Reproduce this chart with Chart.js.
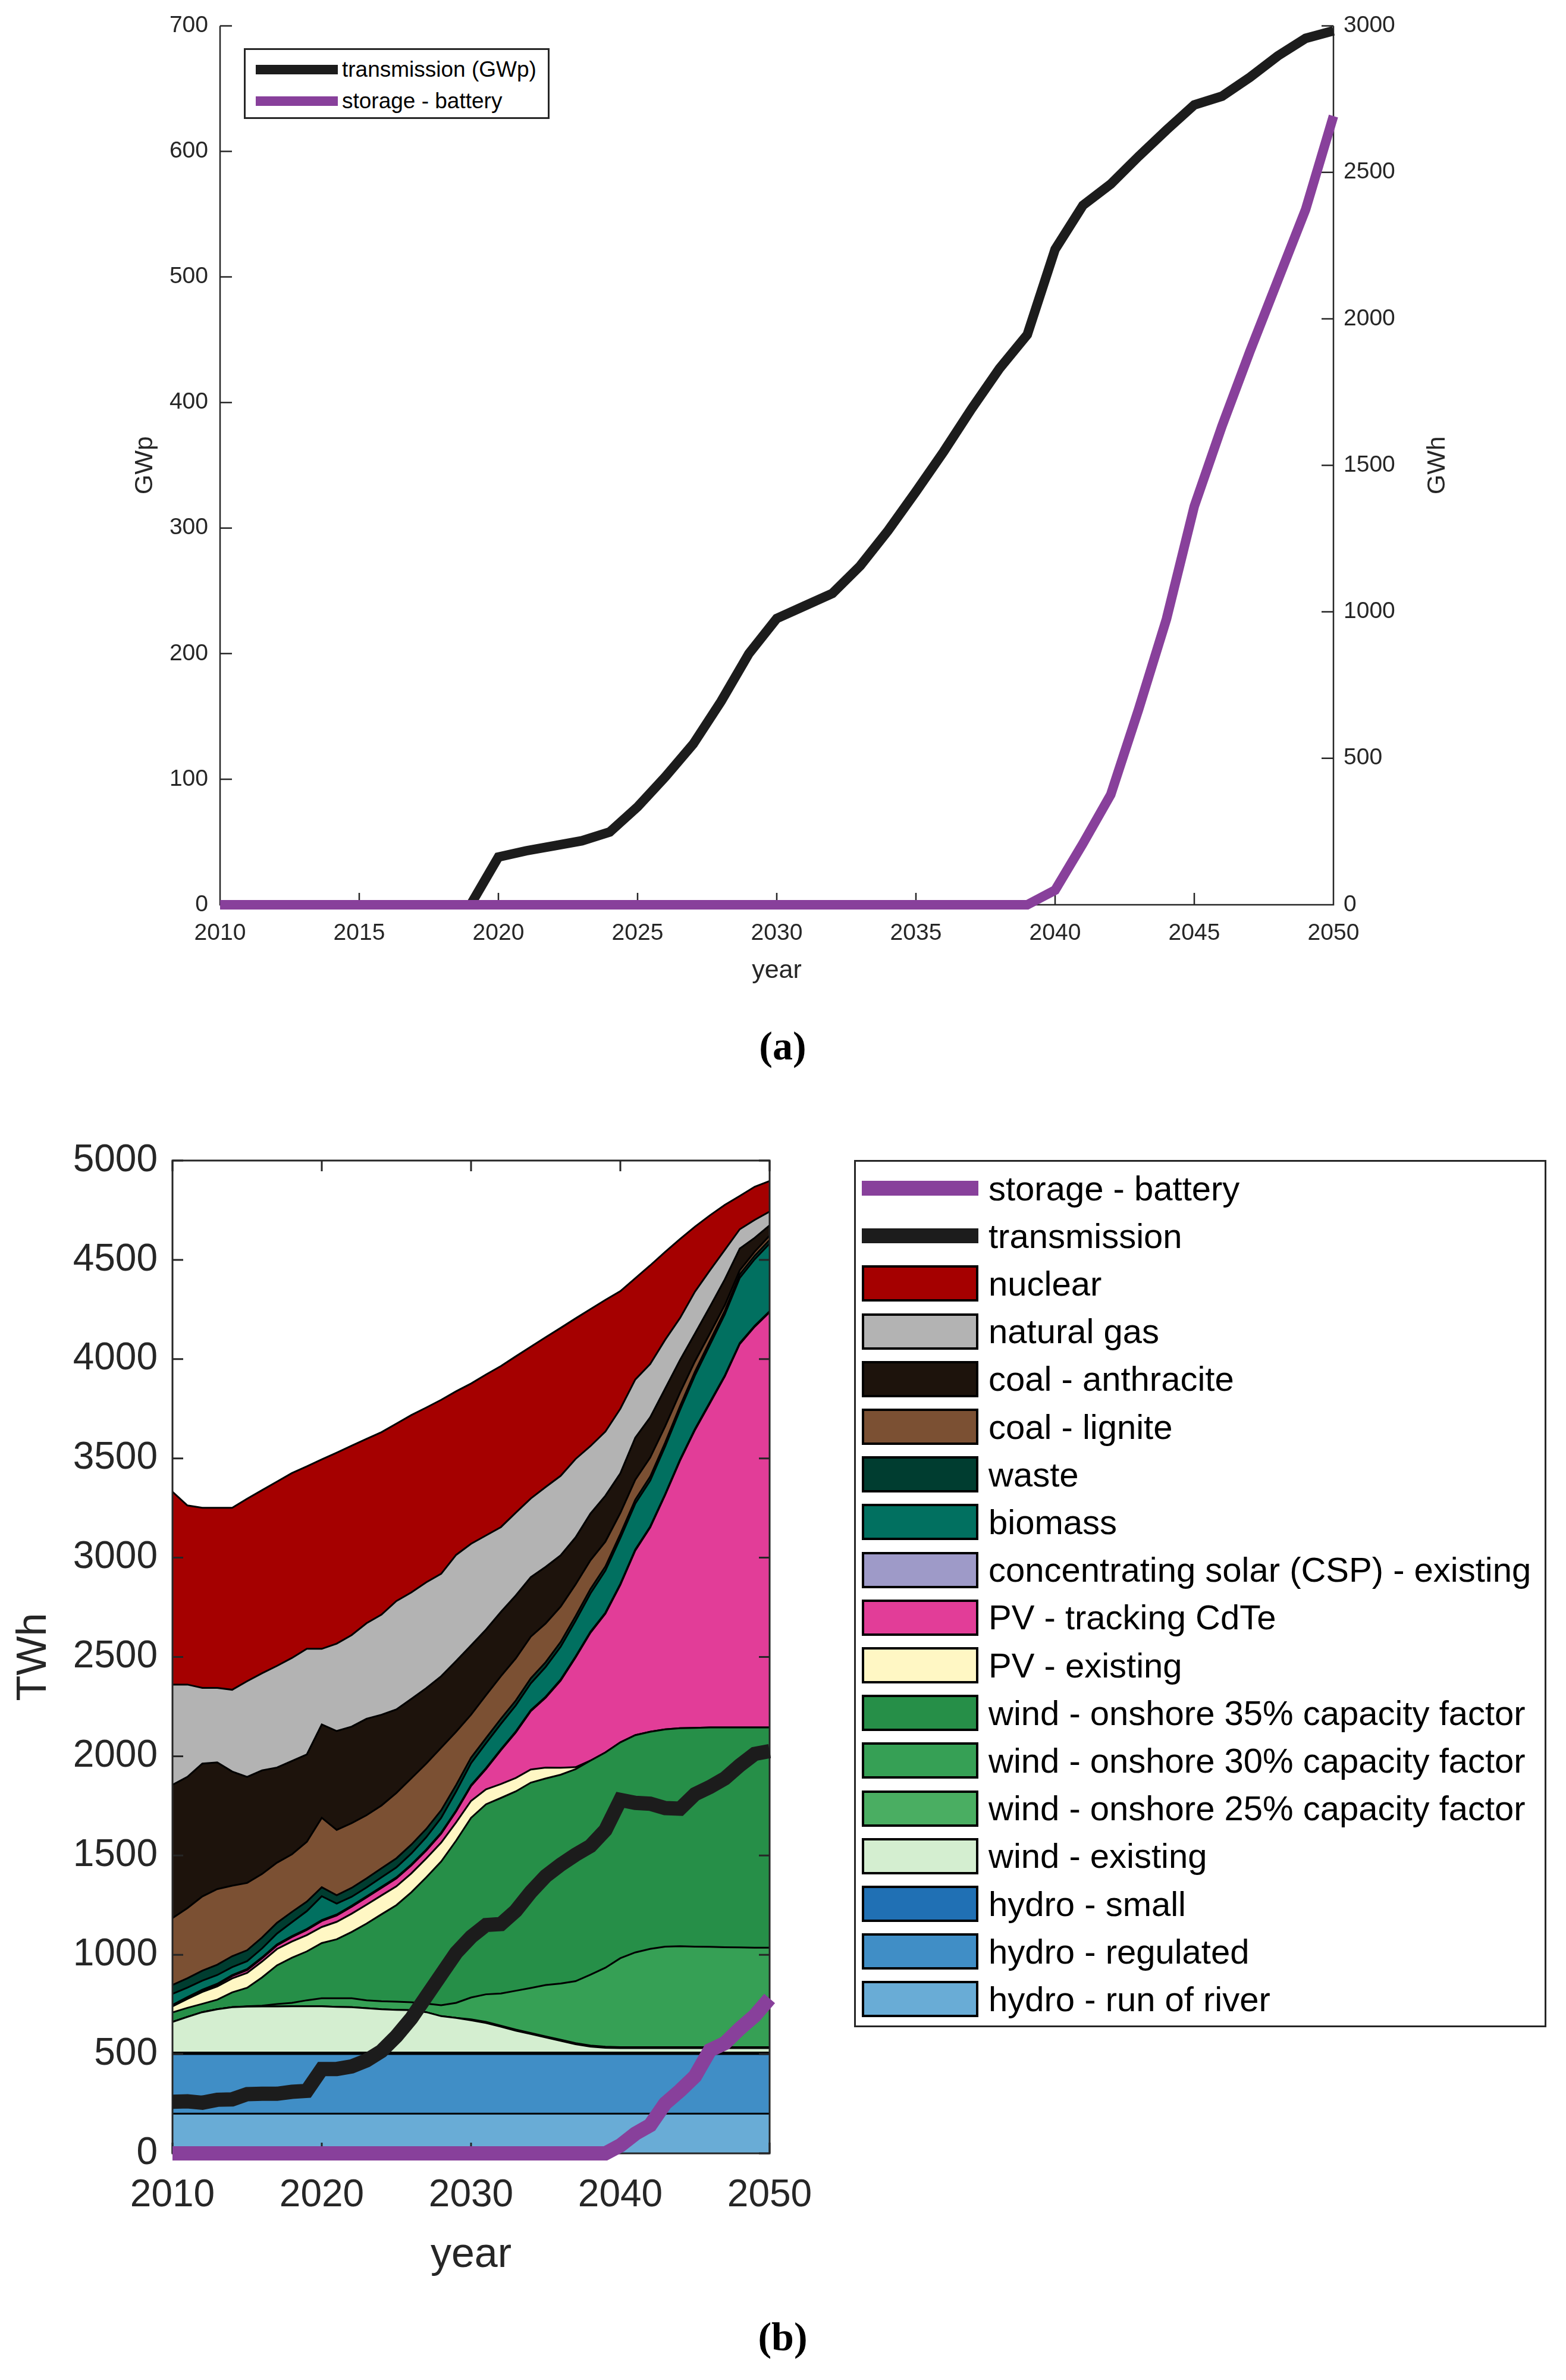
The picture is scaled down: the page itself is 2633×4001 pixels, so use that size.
<!DOCTYPE html>
<html lang="en">
<head>
<meta charset="UTF-8">
<title>Transmission, storage and generation mix 2010-2050</title>
<script src="https://cdn.jsdelivr.net/npm/chart.js"></script>
<style>
  html, body { margin: 0; padding: 0; background: #fff; }
  body { width: 2633px; height: 4001px; position: relative; overflow: hidden;
         font-family: "Liberation Sans", Arial, Helvetica, sans-serif; }
  #chartA { position: absolute; left: 0; top: 0; }
  #chartB { position: absolute; left: 0; top: 1880px; }
  .legend { position: absolute; background: #fff; border: 3px solid #262626; box-sizing: border-box; }
  .legend .swatch { position: absolute; box-sizing: border-box; }
  .legend .txt { position: absolute; white-space: nowrap; color: #000; }
  #legendA { left: 410px; top: 81px; width: 514px; height: 119px; }
  #legendB { left: 1436px; top: 1950px; width: 1164px; height: 1458px; }
  .caption { position: absolute; width: 300px; text-align: center; line-height: 80px;
             font: bold 68px "Liberation Serif", "DejaVu Serif", serif; color: #000; }
</style>
</head>
<body>

<canvas id="chartA" width="2633" height="1720"></canvas>
<div id="legendA" class="legend"></div>
<div class="caption" style="left:1166px; top:1719px;">(a)</div>

<canvas id="chartB" width="1440" height="2000"></canvas>
<div id="legendB" class="legend"></div>
<div class="caption" style="left:1166px; top:3889px;">(b)</div>

<script>
  const years = [2010, 2011, 2012, 2013, 2014, 2015, 2016, 2017, 2018, 2019,
                 2020, 2021, 2022, 2023, 2024, 2025, 2026, 2027, 2028, 2029,
                 2030, 2031, 2032, 2033, 2034, 2035, 2036, 2037, 2038, 2039,
                 2040, 2041, 2042, 2043, 2044, 2045, 2046, 2047, 2048, 2049, 2050];

  // ---- (a) installed capacity ----
  const xTicksA = [2010, 2015, 2020, 2025, 2030, 2035, 2040, 2045, 2050];
  const yTicksGWp = [0, 100, 200, 300, 400, 500, 600, 700];
  const yTicksGWh = [0, 500, 1000, 1500, 2000, 2500, 3000];

  const transmissionGWp = [0, 0, 0, 0, 0, 0, 0, 0, 0, 0,
                           38, 43, 47, 51, 58, 78, 102, 128, 162, 200,
                           228, 238, 248, 270, 298, 329, 361, 395, 427, 454,
                           522, 557, 574, 596, 617, 637, 644, 659, 676, 690, 696];
  const storageGWh = [0, 0, 0, 0, 0, 0, 0, 0, 0, 0,
                      0, 0, 0, 0, 0, 0, 0, 0, 0, 0,
                      0, 0, 0, 0, 0, 0, 0, 0, 0, 0,
                      50, 209, 376, 667, 975, 1360, 1635, 1889, 2131, 2373, 2692];

  // ---- (b) generation, TWh ----
  const xTicksB = [2010, 2020, 2030, 2040, 2050];
  const yTicksTWh = [0, 500, 1000, 1500, 2000, 2500, 3000, 3500, 4000, 4500, 5000];

  const hydroRunOfRiver = [200, 200, 200, 200, 200, 200, 200, 200, 200, 200,
                           200, 200, 200, 200, 200, 200, 200, 200, 200, 200,
                           200, 200, 200, 200, 200, 200, 200, 200, 200, 200,
                           200, 200, 200, 200, 200, 200, 200, 200, 200, 200, 200];
  const hydroRegulated = [300, 300, 300, 300, 300, 300, 300, 300, 300, 300,
                          300, 300, 300, 300, 300, 300, 300, 300, 300, 300,
                          300, 300, 300, 300, 300, 300, 300, 300, 300, 300,
                          300, 300, 300, 300, 300, 300, 300, 300, 300, 300, 300];
  const hydroSmall = [8, 8, 8, 8, 8, 8, 8, 8, 8, 8,
                      8, 8, 8, 8, 8, 8, 8, 8, 8, 8,
                      8, 8, 8, 8, 8, 8, 8, 8, 8, 8,
                      8, 8, 8, 8, 8, 8, 8, 8, 8, 8, 8];
  const windExisting = [154, 179, 203, 218, 228, 231, 232, 232, 233, 233,
                        233, 230, 228, 223, 218, 215, 213, 203, 183, 174,
                        162, 149, 130, 110, 93, 76, 59, 42, 30, 24,
                        22, 22, 22, 22, 22, 22, 22, 22, 22, 22, 22];
  const wind25 = [0, 0, 0, 0, 0, 0, 0, 0, 0, 0,
                  0, 0, 0, 0, 0, 0, 0, 0, 0, 0,
                  5, 5, 5, 5, 5, 5, 5, 5, 5, 5,
                  5, 5, 5, 5, 5, 5, 5, 5, 5, 5, 5];
  const wind30 = [0, 0, 0, 0, 0, 2, 4, 12, 17, 30,
                  40, 43, 45, 40, 40, 41, 40, 43, 55, 76,
                  110, 139, 162, 196, 227, 259, 283, 312, 357, 398,
                  448, 477, 495, 506, 508, 506, 505, 503, 502, 501, 501];
  const wind35 = [48, 46, 42, 48, 75, 93, 142, 195, 227, 246,
                  278, 297, 334, 386, 438, 486, 554, 636, 724, 817,
                  905, 957, 985, 1004, 1034, 1040, 1052, 1068, 1078, 1084,
                  1087, 1094, 1093, 1094, 1098, 1102, 1105, 1107, 1108, 1109, 1109];
  const pvExisting = [30, 45, 60, 67, 70, 75, 80, 82, 82, 82,
                      81, 88, 92, 95, 95, 95, 95, 95, 95, 92,
                      85, 75, 70, 68, 66, 55, 35, 10, 0, 0,
                      0, 0, 0, 0, 0, 0, 0, 0, 0, 0, 0];
  const pvTracking = [3, 4, 6, 8, 12, 14, 16, 18, 22, 26,
                      30, 32, 35, 37, 38, 40, 40, 40, 45, 55,
                      75, 102, 170, 229, 294, 352, 439, 552, 644, 699,
                      793, 930, 1029, 1180, 1348, 1500, 1633, 1768, 1931, 2018, 2091];
  const cspExisting = [5, 5, 5, 5, 5, 5, 5, 5, 5, 5,
                       5, 5, 5, 5, 5, 5, 5, 5, 5, 5,
                       5, 5, 5, 5, 5, 5, 5, 5, 5, 5,
                       5, 5, 5, 5, 5, 5, 5, 5, 5, 5, 5];
  const biomass = [55, 48, 46, 44, 40, 40, 45, 55, 70, 90,
                   120, 55, 45, 45, 48, 50, 55, 62, 75, 95,
                   110, 125, 128, 131, 135, 150, 165, 180, 193, 212,
                   231, 231, 231, 240, 250, 270, 289, 308, 328, 335, 341];
  const waste = [45, 47, 50, 52, 55, 55, 55, 54, 52, 48,
                 45, 42, 45, 46, 46, 46, 45, 42, 38, 33,
                 28, 26, 26, 25, 25, 24, 24, 23, 22, 21,
                 20, 20, 20, 19, 19, 19, 19, 18, 18, 18, 18];
  const coalLignite = [337, 353, 374, 381, 355, 339, 320, 303, 290, 301,
                       350, 329, 326, 318, 316, 329, 334, 329, 315, 268,
                       216, 216, 214, 212, 210, 195, 178, 160, 145, 125,
                       106, 100, 96, 82, 68, 52, 38, 28, 20, 20, 22];
  const coalAnthracite = [671, 661, 669, 638, 575, 534, 522, 479, 470, 440,
                          470, 498, 486, 486, 457, 421, 400, 380, 360, 357,
                          349, 331, 324, 317, 300, 285, 259, 237, 235, 231,
                          200, 212, 203, 190, 165, 140, 135, 130, 110, 70, 52];
  const naturalGas = [505, 465, 381, 375, 412, 482, 489, 512, 519, 532,
                      381, 440, 461, 481, 504, 546, 536, 533, 516, 534,
                      512, 474, 427, 417, 396, 402, 400, 395, 340, 323,
                      325, 293, 268, 246, 211, 211, 183, 148, 97, 90, 69];
  const nuclear = [971, 902, 907, 907, 916, 919, 922, 928, 931, 919,
                   954, 962, 954, 928, 919, 893, 893, 880, 876, 824,
                   807, 810, 811, 787, 764, 754, 745, 708, 690, 663,
                   592, 510, 497, 443, 398, 327, 277, 227, 168, 167, 154];
  const transmissionTWh = [260, 262, 255, 270, 272, 298, 300, 300, 310, 315,
                           425, 425, 438, 468, 515, 590, 680, 790, 900, 1010,
                           1090, 1150, 1155, 1222, 1316, 1396, 1454, 1504, 1548, 1628,
                           1780, 1765, 1761, 1739, 1736, 1809, 1845, 1888, 1954, 2012, 2026];
  const storageTWh = [0, 0, 0, 0, 0, 0, 0, 0, 0, 0,
                      0, 0, 0, 0, 0, 0, 0, 0, 0, 0,
                      0, 0, 0, 0, 0, 0, 0, 0, 0, 0,
                      40, 99, 142, 251, 316, 388, 519, 555, 628, 693, 780];

  // stacking order, bottom to top
  const areaSeries = [
    { label: 'hydro - run of river', data: hydroRunOfRiver },
    { label: 'hydro - regulated', data: hydroRegulated },
    { label: 'hydro - small', data: hydroSmall },
    { label: 'wind - existing', data: windExisting },
    { label: 'wind - onshore 25% capacity factor', data: wind25 },
    { label: 'wind - onshore 30% capacity factor', data: wind30 },
    { label: 'wind - onshore 35% capacity factor', data: wind35 },
    { label: 'PV - existing', data: pvExisting },
    { label: 'PV - tracking CdTe', data: pvTracking },
    { label: 'concentrating solar (CSP) - existing', data: cspExisting },
    { label: 'biomass', data: biomass },
    { label: 'waste', data: waste },
    { label: 'coal - lignite', data: coalLignite },
    { label: 'coal - anthracite', data: coalAnthracite },
    { label: 'natural gas', data: naturalGas },
    { label: 'nuclear', data: nuclear }
  ];

  const colores = {
    'hydro - run of river': '#69acd6',
    'hydro - regulated': '#408ec6',
    'hydro - small': '#2070b4',
    'wind - existing': '#d4eed0',
    'wind - onshore 25% capacity factor': '#4aae62',
    'wind - onshore 30% capacity factor': '#36a055',
    'wind - onshore 35% capacity factor': '#268f48',
    'PV - existing': '#fff7c4',
    'PV - tracking CdTe': '#e23d98',
    'concentrating solar (CSP) - existing': '#9e9ac8',
    'biomass': '#017060',
    'waste': '#003d30',
    'coal - lignite': '#7b5033',
    'coal - anthracite': '#1d130c',
    'natural gas': '#b3b3b3',
    'nuclear': '#a50000',
    'transmission': '#1c1c1c',
    'storage': '#88409b'
  };

  const AXIS = '#262626';
  const FONT = '"Liberation Sans", Arial, Helvetica, sans-serif';
  Chart.defaults.font.family = FONT;
  Chart.defaults.color = AXIS;

  function pontos(arr) {
    return years.map((ano, i) => ({ x: ano, y: arr[i] }));
  }
  function fixarTicks(lista) {
    return (scale) => { scale.ticks = lista.map(v => ({ value: v })); };
  }

  // axes of (a): left, right and bottom lines with inward ticks
  const eixosA = {
    id: 'eixosA',
    beforeDatasetsDraw(chart) {
      const { ctx, chartArea: a, scales: { x, y, y1 } } = chart;
      const tl = 20;
      ctx.save();
      ctx.strokeStyle = AXIS;
      ctx.lineWidth = 2.5;
      ctx.beginPath();
      ctx.moveTo(a.left, a.top); ctx.lineTo(a.left, a.bottom);
      ctx.lineTo(a.right, a.bottom); ctx.lineTo(a.right, a.top);
      x.ticks.forEach(t => { const p = x.getPixelForValue(t.value); ctx.moveTo(p, a.bottom); ctx.lineTo(p, a.bottom - tl); });
      y.ticks.forEach(t => { const p = y.getPixelForValue(t.value); ctx.moveTo(a.left, p); ctx.lineTo(a.left + tl, p); });
      y1.ticks.forEach(t => { const p = y1.getPixelForValue(t.value); ctx.moveTo(a.right, p); ctx.lineTo(a.right - tl, p); });
      ctx.stroke();
      // right axis label reads bottom to top, like the left one
      ctx.fillStyle = AXIS;
      ctx.font = '43px ' + FONT;
      ctx.textAlign = 'center';
      ctx.textBaseline = 'middle';
      ctx.translate(2417, (a.top + a.bottom) / 2);
      ctx.rotate(-Math.PI / 2);
      ctx.fillText(chart.options.scales.y1.title.text, 0, 0);
      ctx.restore();
    }
  };

  // box of (b) with inward ticks on all sides, drawn after the areas, under the lines
  const caixaB = {
    id: 'caixaB',
    afterDatasetDraw(chart, args) {
      if (args.index !== 0) return;
      const { ctx, chartArea: a, scales: { x, y } } = chart;
      const tl = 18;
      ctx.save();
      ctx.strokeStyle = AXIS;
      ctx.lineWidth = 3;
      ctx.strokeRect(a.left, a.top, a.right - a.left, a.bottom - a.top);
      ctx.beginPath();
      x.ticks.forEach(t => {
        const p = x.getPixelForValue(t.value);
        ctx.moveTo(p, a.bottom); ctx.lineTo(p, a.bottom - tl);
        ctx.moveTo(p, a.top); ctx.lineTo(p, a.top + tl);
      });
      y.ticks.forEach(t => {
        const p = y.getPixelForValue(t.value);
        ctx.moveTo(a.left, p); ctx.lineTo(a.left + tl, p);
        ctx.moveTo(a.right, p); ctx.lineTo(a.right - tl, p);
      });
      ctx.stroke();
      ctx.restore();
    }
  };

  const graficoA = new Chart(document.getElementById('chartA'), {
    type: 'line',
    data: {
      datasets: [
        { label: 'transmission (GWp)', data: pontos(transmissionGWp), yAxisID: 'y',
          borderColor: colores.transmission, backgroundColor: colores.transmission,
          borderWidth: 16, pointRadius: 0, tension: 0, fill: false, clip: false, order: 1 },
        { label: 'storage - battery', data: pontos(storageGWh), yAxisID: 'y1',
          borderColor: colores.storage, backgroundColor: colores.storage,
          borderWidth: 16, pointRadius: 0, tension: 0, fill: false, clip: false, order: 0 }
      ]
    },
    options: {
      responsive: false,
      animation: false,
      devicePixelRatio: 1,
      events: [],
      layout: { padding: { top: 43, left: 0, right: 0, bottom: 0 } },
      plugins: { legend: { display: false }, tooltip: { enabled: false } },
      scales: {
        x: {
          type: 'linear', min: 2010, max: 2050,
          afterBuildTicks: fixarTicks(xTicksA),
          afterFit: (s) => { s.height = 199; },
          grid: { display: false, drawTicks: false }, border: { display: false },
          ticks: { autoSkip: false, maxRotation: 0, padding: 25, font: { size: 39 }, callback: v => String(v) },
          title: { display: true, text: 'year', font: { size: 43 }, padding: { top: 0, bottom: 62 } }
        },
        y: {
          position: 'left', min: 0, max: 700,
          afterBuildTicks: fixarTicks(yTicksGWp),
          afterFit: (s) => { s.width = 370; },
          grid: { display: false, drawTicks: false }, border: { display: false },
          ticks: { padding: 20, font: { size: 39 }, callback: v => String(v) },
          title: { display: true, text: 'GWp', font: { size: 43 }, padding: { top: 218, bottom: 0 } }
        },
        y1: {
          position: 'right', min: 0, max: 3000,
          afterBuildTicks: fixarTicks(yTicksGWh),
          afterFit: (s) => { s.width = 391; },
          grid: { display: false, drawTicks: false }, border: { display: false },
          ticks: { padding: 17, font: { size: 39 }, callback: v => String(v) },
          title: { display: false, text: 'GWh' }
        }
      }
    },
    plugins: [eixosA]
  });

  const conjuntosArea = areaSeries.map((s, i) => ({
    label: s.label,
    data: pontos(s.data),
    stack: 'geracao',
    fill: i === 0 ? 'origin' : '-1',
    backgroundColor: colores[s.label],
    borderColor: '#000',
    borderWidth: 3,
    pointRadius: 0,
    tension: 0,
    order: 2
  }));

  const graficoB = new Chart(document.getElementById('chartB'), {
    type: 'line',
    data: {
      datasets: conjuntosArea.concat([
        { label: 'transmission', data: pontos(transmissionTWh), stack: 'transmissao',
          borderColor: colores.transmission, backgroundColor: colores.transmission,
          borderWidth: 24, pointRadius: 0, tension: 0, fill: false, clip: false, order: 1 },
        { label: 'storage - battery', data: pontos(storageTWh), stack: 'bateria',
          borderColor: colores.storage, backgroundColor: colores.storage,
          borderWidth: 24, pointRadius: 0, tension: 0, fill: false, clip: false, order: 0 }
      ])
    },
    options: {
      responsive: false,
      animation: false,
      devicePixelRatio: 1,
      events: [],
      layout: { padding: { top: 71, left: 0, right: 146, bottom: 0 } },
      plugins: { legend: { display: false }, tooltip: { enabled: false } },
      scales: {
        x: {
          type: 'linear', min: 2010, max: 2050,
          afterBuildTicks: fixarTicks(xTicksB),
          afterFit: (s) => { s.height = 260; },
          grid: { display: false, drawTicks: false }, border: { display: false },
          ticks: { autoSkip: false, maxRotation: 0, padding: 33, font: { size: 64 }, callback: v => String(v) },
          title: { display: true, text: 'year', font: { size: 70 }, padding: { top: 0, bottom: 46 } }
        },
        y: {
          stacked: true, min: 0, max: 5000,
          afterBuildTicks: fixarTicks(yTicksTWh),
          afterFit: (s) => { s.width = 290; },
          grid: { display: false, drawTicks: false }, border: { display: false },
          ticks: { padding: 25, font: { size: 64 }, callback: v => String(v) },
          title: { display: true, text: 'TWh', font: { size: 70 }, padding: { top: 16, bottom: 0 } }
        }
      }
    },
    plugins: [caixaB]
  });

  // html legends built from the datasets
  function montarLegenda(idCaixa, chart, indices, s) {
    const caixa = document.getElementById(idCaixa);
    indices.forEach((k, i) => {
      const ds = chart.data.datasets[k];
      const cy = s.primeira + i * s.passo;
      const sw = document.createElement('div');
      sw.className = 'swatch';
      if (ds.fill === false) {
        sw.style.cssText = `left:${s.swEsq}px;width:${s.swLarg}px;top:${cy - s.linhaAlt / 2}px;height:${s.linhaAlt}px;background:${ds.borderColor}`;
      } else {
        sw.style.cssText = `left:${s.swEsq}px;width:${s.swLarg}px;top:${cy - s.patchAlt / 2}px;height:${s.patchAlt}px;background:${ds.backgroundColor};border:4px solid #000`;
      }
      const tx = document.createElement('div');
      tx.className = 'txt';
      tx.textContent = ds.label;
      tx.style.cssText = `left:${s.txtEsq}px;top:${cy - s.lh / 2}px;font-size:${s.fonte}px;line-height:${s.lh}px`;
      caixa.append(sw, tx);
    });
  }

  montarLegenda('legendA', graficoA, [0, 1],
    { primeira: 33, passo: 53, swEsq: 17, swLarg: 138, linhaAlt: 16, txtEsq: 162, fonte: 37, lh: 44 });

  const nAreas = areaSeries.length;
  const ordemB = [nAreas + 1, nAreas];
  for (let k = nAreas - 1; k >= 0; k--) ordemB.push(k);
  montarLegenda('legendB', graficoB, ordemB,
    { primeira: 44.5, passo: 80.2, swEsq: 10, swLarg: 196, linhaAlt: 25, patchAlt: 61, txtEsq: 223, fonte: 58, lh: 68 });
</script>
</body>
</html>
